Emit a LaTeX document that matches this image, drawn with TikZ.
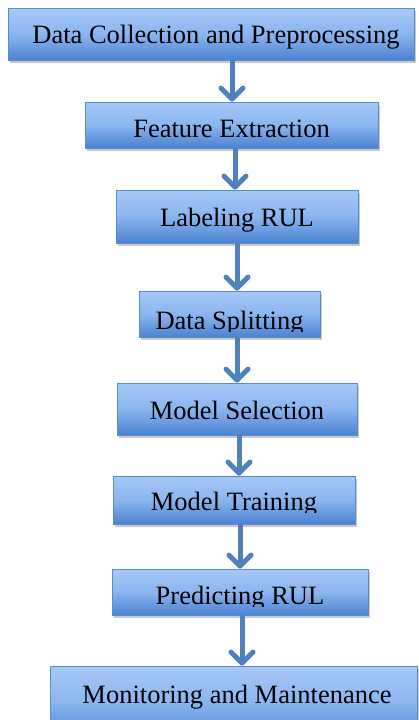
\documentclass[tikz,border=0pt]{standalone}
\usepackage{fontspec}
\setmainfont{Liberation Serif}
\usetikzlibrary{arrows.meta,shadows}
\definecolor{boxtop}{HTML}{A6C9F7}
\definecolor{boxmid}{HTML}{8AB5EF}
\definecolor{boxbot}{HTML}{4C82D2}
\definecolor{boxedge}{HTML}{5A8CCB}
\definecolor{flowblue}{HTML}{4F81BD}
\tikzset{
  stage/.style={draw=boxedge, line width=0.8pt, rectangle, inner sep=0pt,
    top color=boxtop, bottom color=boxbot, middle color=boxmid,
    drop shadow={shadow xshift=2pt, shadow yshift=-3pt, opacity=0.35, fill=black!60}},
  caption/.style={anchor=base, inner sep=0pt, font=\fontsize{26.5}{30}\selectfont, text=black},
  flow/.style={draw=flowblue, line width=5pt,
    -{Straight Barb[length=11pt, width=22pt, line cap=round, line join=round]}}
}
% place a stage box given its corners (pixel grid, y downwards)
\newcommand{\stagebox}[5]{%
  \node[stage, minimum width={#3-#1}, minimum height={#4-#2}] (#5)
    at ({(#1+#3)/2},{(#2+#4)/2}) {};}
% label text clipped to the text area of its box
\newcommand{\stagetext}[7]{%
  \begin{scope}
    \clip (#1,#2) rectangle (#3,#4);
    \node[caption] (#7) at ({(#1+#3)/2},#5) {#6};
  \end{scope}}
\begin{document}
\begin{tikzpicture}[x=1pt, y=-1pt]
  \useasboundingbox (0,0) rectangle (418,720);
  \fill[white] (0,0) rectangle (418,720);

  \stagebox{8}{8}{414}{60}{b1}
  \stagebox{85}{102}{378}{148}{b2}
  \stagebox{116}{190}{358}{243}{b3}
  \stagebox{139}{291}{320}{337}{b4}
  \stagebox{117}{383}{357}{435}{b5}
  \stagebox{113}{476}{355}{524}{b6}
  \stagebox{112}{569}{368}{615}{b7}
  \stagebox{50}{666}{417}{740}{b8}

  \stagetext{8}{8}{424}{60}{43}{Data Collection and Preprocessing}{t1}
  \stagetext{85}{102}{378}{148}{137}{Feature Extraction}{t2}
  \stagetext{116}{190}{358}{243}{226}{Labeling RUL}{t3}
  \stagetext{139}{291}{320}{331}{329}{Data Splitting}{t4}
  \stagetext{117}{383}{357}{435}{419}{Model Selection}{t5}
  \stagetext{113}{476}{355}{512}{510}{Model Training}{t6}
  \stagetext{112}{569}{368}{606}{604}{Predicting RUL}{t7}
  \stagetext{50}{666}{424}{740}{703}{Monitoring and Maintenance}{t8}

  % vertical positions of the connectors
  \coordinate (a1) at (232,0);
  \coordinate (a2) at (235,0);
  \coordinate (a3) at (237,0);
  \coordinate (a4) at (237,0);
  \coordinate (a5) at (239,0);
  \coordinate (a6) at (240,0);
  \coordinate (a7) at (242,0);

  \draw[flow] (b1.south -| a1) -- (b2.north -| a1);
  \draw[flow] (b2.south -| a2) -- (b3.north -| a2);
  \draw[flow] (b3.south -| a3) -- (b4.north -| a3);
  \draw[flow] (b4.south -| a4) -- (b5.north -| a4);
  \draw[flow] (b5.south -| a5) -- (b6.north -| a5);
  \draw[flow] (b6.south -| a6) -- (b7.north -| a6);
  \draw[flow] (b7.south -| a7) -- (b8.north -| a7);
\end{tikzpicture}
\end{document}
